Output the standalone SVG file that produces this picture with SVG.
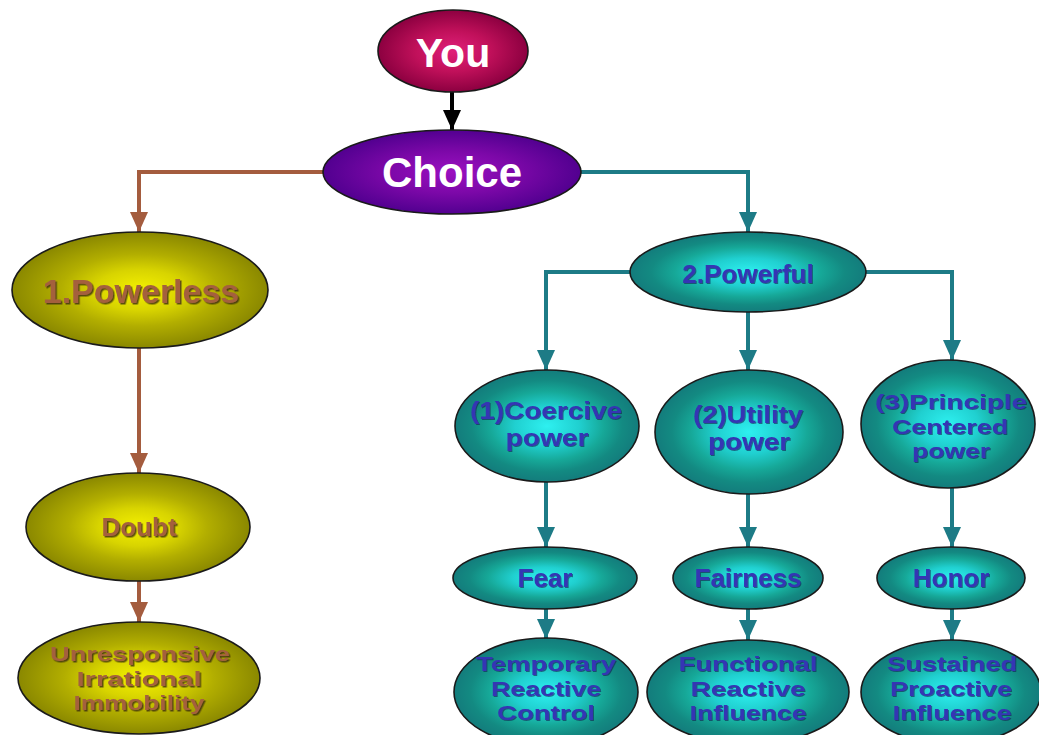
<svg xmlns="http://www.w3.org/2000/svg" width="1039" height="735" viewBox="0 0 1039 735">
<defs>
<radialGradient id="gTeal" cx="50%" cy="50%" r="50%">
<stop offset="0%" stop-color="#2ef0f0"/>
<stop offset="35%" stop-color="#20d0d0"/>
<stop offset="62%" stop-color="#16a898"/>
<stop offset="82%" stop-color="#138a82"/>
<stop offset="100%" stop-color="#137c7c"/>
</radialGradient>
<radialGradient id="gOlive" cx="50%" cy="50%" r="50%">
<stop offset="0%" stop-color="#f4f000"/>
<stop offset="35%" stop-color="#d8d400"/>
<stop offset="62%" stop-color="#b2ae00"/>
<stop offset="100%" stop-color="#8a8800"/>
</radialGradient>
<radialGradient id="gPurple" cx="50%" cy="50%" r="50%">
<stop offset="0%" stop-color="#9a10c0"/>
<stop offset="50%" stop-color="#7c08a8"/>
<stop offset="100%" stop-color="#520090"/>
</radialGradient>
<radialGradient id="gRed" cx="50%" cy="50%" r="50%">
<stop offset="0%" stop-color="#e0207a"/>
<stop offset="50%" stop-color="#c0105a"/>
<stop offset="100%" stop-color="#8c0040"/>
</radialGradient>
<filter id="sh" x="-10%" y="-20%" width="120%" height="140%">
<feDropShadow dx="1.5" dy="1.5" stdDeviation="0.6" flood-color="#3a2a10" flood-opacity="0.8"/>
</filter>
<filter id="shb" x="-10%" y="-20%" width="120%" height="140%">
<feDropShadow dx="1" dy="1" stdDeviation="0.5" flood-color="#102050" flood-opacity="0.6"/>
</filter>
<marker id="aBlack" viewBox="0 0 18 20" refX="9" refY="20" markerWidth="18" markerHeight="20" markerUnits="userSpaceOnUse">
<path d="M0,0 L18,0 L9,20 Z" fill="#000"/>
</marker>
<marker id="aBrown" viewBox="0 0 18 20" refX="9" refY="20" markerWidth="18" markerHeight="20" markerUnits="userSpaceOnUse">
<path d="M0,0 L18,0 L9,20 Z" fill="#a45c3e"/>
</marker>
<marker id="aTeal" viewBox="0 0 18 20" refX="9" refY="20" markerWidth="18" markerHeight="20" markerUnits="userSpaceOnUse">
<path d="M0,0 L18,0 L9,20 Z" fill="#1d7b86"/>
</marker>
</defs>
<style>
.n{stroke:#1a1a1a;stroke-width:1.6}
.teal{fill:url(#gTeal)}
.olive{fill:url(#gOlive)}
.bl{font-family:"Liberation Sans",Arial,sans-serif;font-weight:bold;fill:#3434b4;text-anchor:middle;font-size:26px;filter:url(#shb)}
.m2{font-size:23px}
.m3{font-size:21px}
.br{font-family:"Liberation Sans",Arial,sans-serif;font-weight:bold;fill:#a4603e;text-anchor:middle;filter:url(#sh)}
.wh{font-family:"Liberation Sans",Arial,sans-serif;font-weight:bold;fill:#fff;text-anchor:middle}
.cb{fill:none;stroke:#a45c3e;stroke-width:4;marker-end:url(#aBrown)}
.ct{fill:none;stroke:#1d7b86;stroke-width:4;marker-end:url(#aTeal)}
.ck{fill:none;stroke:#000;stroke-width:4;marker-end:url(#aBlack)}
</style>
<rect width="1039" height="735" fill="#ffffff"/>
<g id="connectors">
<path class="ck" d="M452,92 V130"/>
<path class="cb" d="M324,172 H139 V232"/>
<path class="ct" d="M581,172 H748 V232"/>
<path class="cb" d="M139,348 V473"/>
<path class="cb" d="M139,580 V622"/>
<path class="ct" d="M630,272 H546 V370"/>
<path class="ct" d="M748,312 V370"/>
<path class="ct" d="M866,272 H952 V360"/>
<path class="ct" d="M546,481 V547"/>
<path class="ct" d="M748,493 V547"/>
<path class="ct" d="M952,488 V547"/>
<path class="ct" d="M546,608 V639"/>
<path class="ct" d="M748,608 V640"/>
<path class="ct" d="M952,608 V640"/>
</g>
<g id="you">
<ellipse class="n" cx="453" cy="51" rx="75" ry="41" fill="url(#gRed)"/>
<text class="wh" x="453" y="67" font-size="41">You</text>
</g>
<g id="choice">
<ellipse class="n" cx="452" cy="172" rx="129" ry="42" fill="url(#gPurple)"/>
<text class="wh" x="452" y="187" font-size="42">Choice</text>
</g>
<g id="powerless">
<ellipse class="n olive" cx="140" cy="290" rx="128" ry="58"/>
<text class="br" x="141" y="303" font-size="34">1.Powerless</text>
</g>
<g id="doubt">
<ellipse class="n olive" cx="138" cy="527" rx="112" ry="54"/>
<text class="br" x="139" y="536" font-size="26">Doubt</text>
</g>
<g id="unresponsive">
<ellipse class="n olive" cx="139" cy="678" rx="121" ry="56"/>
<text class="br" x="140" y="661" font-size="21" textLength="180" lengthAdjust="spacingAndGlyphs">Unresponsive</text>
<text class="br" x="139" y="686" font-size="21" textLength="125" lengthAdjust="spacingAndGlyphs">Irrational</text>
<text class="br" x="139" y="710" font-size="21" textLength="131" lengthAdjust="spacingAndGlyphs">Immobility</text>
</g>
<g id="powerful">
<ellipse class="n teal" cx="748" cy="272" rx="118" ry="40"/>
<text class="bl" x="748" y="283" font-size="30">2.Powerful</text>
</g>
<g id="coercive">
<ellipse class="n teal" cx="547" cy="426" rx="92" ry="56"/>
<text class="bl m2" x="546" y="419" textLength="152" lengthAdjust="spacingAndGlyphs">(1)Coercive</text>
<text class="bl m2" x="547" y="446" textLength="83" lengthAdjust="spacingAndGlyphs">power</text>
</g>
<g id="utility">
<ellipse class="n teal" cx="749" cy="432" rx="94" ry="62"/>
<text class="bl m2" x="748" y="423" textLength="110" lengthAdjust="spacingAndGlyphs">(2)Utility</text>
<text class="bl m2" x="749" y="450" textLength="82" lengthAdjust="spacingAndGlyphs">power</text>
</g>
<g id="principle">
<ellipse class="n teal" cx="948" cy="424" rx="87" ry="64"/>
<text class="bl m3" x="951" y="409" textLength="152" lengthAdjust="spacingAndGlyphs">(3)Principle</text>
<text class="bl m3" x="950" y="434" textLength="116" lengthAdjust="spacingAndGlyphs">Centered</text>
<text class="bl m3" x="951" y="458" textLength="78" lengthAdjust="spacingAndGlyphs">power</text>
</g>
<g id="fear">
<ellipse class="n teal" cx="545" cy="578" rx="92" ry="31"/>
<text class="bl" x="545" y="587" font-size="27">Fear</text>
</g>
<g id="fairness">
<ellipse class="n teal" cx="748" cy="578" rx="75" ry="31"/>
<text class="bl" x="748" y="587" font-size="27">Fairness</text>
</g>
<g id="honor">
<ellipse class="n teal" cx="951" cy="578" rx="74" ry="31"/>
<text class="bl" x="951" y="587" font-size="27">Honor</text>
</g>
<g id="temporary">
<ellipse class="n teal" cx="546" cy="692" rx="92" ry="54"/>
<text class="bl m3" x="546" y="671" textLength="140" lengthAdjust="spacingAndGlyphs">Temporary</text>
<text class="bl m3" x="546" y="696" textLength="110" lengthAdjust="spacingAndGlyphs">Reactive</text>
<text class="bl m3" x="546" y="720" textLength="98" lengthAdjust="spacingAndGlyphs">Control</text>
</g>
<g id="functional">
<ellipse class="n teal" cx="748" cy="692" rx="101" ry="52"/>
<text class="bl m3" x="748" y="671" textLength="139" lengthAdjust="spacingAndGlyphs">Functional</text>
<text class="bl m3" x="748" y="696" textLength="115" lengthAdjust="spacingAndGlyphs">Reactive</text>
<text class="bl m3" x="748" y="720" textLength="117" lengthAdjust="spacingAndGlyphs">Influence</text>
</g>
<g id="sustained">
<ellipse class="n teal" cx="951" cy="692" rx="90" ry="52"/>
<text class="bl m3" x="952" y="671" textLength="130" lengthAdjust="spacingAndGlyphs">Sustained</text>
<text class="bl m3" x="951" y="696" textLength="122" lengthAdjust="spacingAndGlyphs">Proactive</text>
<text class="bl m3" x="952" y="720" textLength="119" lengthAdjust="spacingAndGlyphs">Influence</text>
</g>
</svg>
